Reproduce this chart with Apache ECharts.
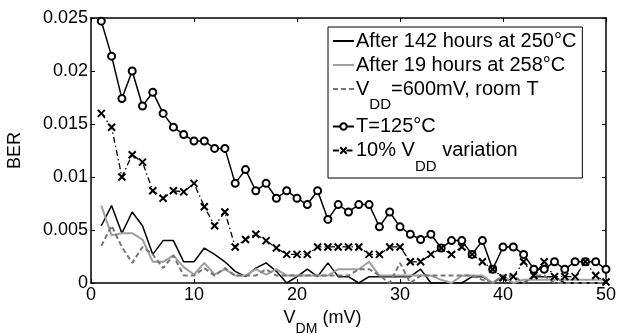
<!DOCTYPE html>
<html>
<head>
<meta charset="utf-8">
<script src="https://cdn.jsdelivr.net/npm/echarts@6/dist/echarts.min.js"></script>
<style>
  html, body { margin: 0; padding: 0; background: #fff; }
  #chart { width: 631px; height: 334px; }
</style>
</head>
<body>
<div id="chart"></div>
<script>
// V_DM (mV) sample points
const vdm = Array.from({ length: 50 }, (_, i) => i + 1);

// BER readings, one array per curve
const after142h = [0.0054, 0.0073, 0.0047, 0.0067, 0.0054, 0.0027, 0.0040, 0.0040, 0.0020, 0.0020,
  0.0033, 0.0027, 0.0020, 0.0011, 0.0006, 0.0014, 0.0019, 0.0011, 0.0000, 0.0006,
  0.0013, 0.0006, 0.0019, 0.0006, 0.0006, 0.0000, 0.0006, 0.0006, 0.0006, 0.0006,
  0.0006, 0.0013, 0.0000, 0.0000, 0.0000, 0.0000, 0.0006, 0.0006, 0.0000, 0.0006,
  0.0000, 0.0000, 0.0006, 0.0006, 0.0006, 0.0000, 0.0000, 0.0000, 0.0000, 0.0000];
const after19h = [0.0073, 0.0045, 0.0047, 0.0047, 0.0041, 0.0020, 0.0020, 0.0026, 0.0015, 0.0008,
  0.0019, 0.0008, 0.0013, 0.0007, 0.0007, 0.0013, 0.0008, 0.0013, 0.0007, 0.0007,
  0.0007, 0.0007, 0.0007, 0.0013, 0.0013, 0.0013, 0.0020, 0.0007, 0.0007, 0.0007,
  0.0007, 0.0007, 0.0007, 0.0003, 0.0000, 0.0007, 0.0007, 0.0007, 0.0000, 0.0007,
  0.0000, 0.0003, 0.0003, 0.0003, 0.0003, 0.0003, 0.0003, 0.0003, 0.0003, 0.0003];
const vdd600 = [0.0035, 0.0054, 0.0034, 0.0019, 0.0034, 0.0027, 0.0014, 0.0026, 0.0007, 0.0007,
  0.0014, 0.0007, 0.0014, 0.0007, 0.0007, 0.0007, 0.0013, 0.0007, 0.0007, 0.0007,
  0.0007, 0.0007, 0.0007, 0.0007, 0.0007, 0.0013, 0.0013, 0.0007, 0.0000, 0.0019,
  0.0000, 0.0007, 0.0007, 0.0007, 0.0007, 0.0007, 0.0007, 0.0003, 0.0000, 0.0007,
  0.0007, 0.0000, 0.0007, 0.0007, 0.0000, 0.0000, 0.0000, 0.0000, 0.0000, 0.0000];
const t125 = [0.0247, 0.0214, 0.0174, 0.0200, 0.0167, 0.0180, 0.0160, 0.0147, 0.0140, 0.0134,
  0.0134, 0.0127, 0.0127, 0.0094, 0.0107, 0.0087, 0.0094, 0.0080, 0.0087, 0.0080,
  0.0074, 0.0087, 0.0060, 0.0074, 0.0067, 0.0074, 0.0074, 0.0053, 0.0067, 0.0053,
  0.0046, 0.0041, 0.0046, 0.0033, 0.0040, 0.0040, 0.0027, 0.0040, 0.0013, 0.0034,
  0.0034, 0.0027, 0.0013, 0.0013, 0.0020, 0.0013, 0.0020, 0.0020, 0.0020, 0.0013];
const vddVar = [0.0160, 0.0147, 0.0100, 0.0121, 0.0114, 0.0087, 0.0080, 0.0087, 0.0086, 0.0094,
  0.0072, 0.0054, 0.0067, 0.0034, 0.0041, 0.0046, 0.0040, 0.0033, 0.0027, 0.0027,
  0.0027, 0.0034, 0.0034, 0.0034, 0.0034, 0.0034, 0.0027, 0.0027, 0.0034, 0.0034,
  0.0020, 0.0020, 0.0027, 0.0033, 0.0027, 0.0034, 0.0027, 0.0020, 0.0013, 0.0005,
  0.0006, 0.0020, 0.0007, 0.0020, 0.0006, 0.0006, 0.0006, 0.0020, 0.0007, 0.0001];

const yTicks = [0, 0.005, 0.01, 0.015, 0.02, 0.025];
const xTicks = [0, 10, 20, 30, 40, 50];

const names = [
  'After 142 hours at 250°C',
  'After 19 hours at 258°C',
  '{n|V}{s|DD}{n|=600mV, room T}',
  'T=125°C',
  '{n|10% V}{s|DD}{n| variation}'
];

const font = 'Liberation Sans, Arial, sans-serif';
const pair = arr => arr.map((v, i) => [vdm[i], v]);
const crossIcon = 'path://M0,0L10,10M10,0L0,10';
const noSymbol = { color: 'rgba(0,0,0,0)', borderColor: 'rgba(0,0,0,0)', borderWidth: 0 };

const chart = echarts.init(document.getElementById('chart'), null, { renderer: 'canvas' });

const axisBase = {
  axisLine: { show: true, onZero: false, lineStyle: { color: '#000', width: 1.5 } },
  axisTick: { show: true, inside: true, length: 4, lineStyle: { color: '#000', width: 1 } },
  splitLine: { show: false }
};

const option = {
  backgroundColor: '#fff',
  animation: false,
  textStyle: { fontFamily: font },
  grid: { left: 91, right: 25, top: 18, bottom: 51, containLabel: false, outerBoundsMode: 'none' },
  legend: {
    orient: 'vertical',
    left: 328,
    top: 27,
    padding: [4, 6, 4, 4],
    itemGap: 4,
    itemWidth: 21,
    itemHeight: 8,
    borderColor: '#000',
    borderWidth: 1,
    borderRadius: 0,
    backgroundColor: '#fff',
    textStyle: {
      fontFamily: font, fontSize: 20, color: '#000', padding: [0, 0, 0, -3],
      rich: {
        n: { fontFamily: font, fontSize: 20, color: '#000' },
        s: { fontFamily: font, fontSize: 15, color: '#000', padding: [32, 0, 0, 0] }
      }
    },
    data: [
      { name: names[0], itemStyle: noSymbol },
      { name: names[1], itemStyle: noSymbol },
      { name: names[2], itemStyle: noSymbol },
      { name: names[3] },
      { name: names[4] }
    ]
  },
  xAxis: [
    Object.assign({}, axisBase, {
      type: 'value', min: 0, max: 50, interval: 10,
      name: '{n|V}{s|DM}{n| (mV)}',
      nameLocation: 'middle',
      nameGap: 14,
      nameTextStyle: {
        padding: [0, 52, 0, 0],
        rich: {
          n: { fontFamily: font, fontSize: 18, color: '#000' },
          s: { fontFamily: font, fontSize: 14, color: '#000', padding: [22, 0, 0, 0] }
        }
      },
      axisLabel: { color: '#000', fontSize: 18, fontFamily: font, margin: 3,
        formatter: v => xTicks.includes(v) ? String(v) : '' }
    }),
    Object.assign({}, axisBase, {
      type: 'value', min: 0, max: 50, interval: 10, position: 'top',
      axisLabel: { show: false }
    })
  ],
  yAxis: [
    Object.assign({}, axisBase, {
      type: 'value', min: 0, max: 0.025, interval: 0.005,
      name: 'BER',
      nameLocation: 'middle',
      nameGap: 67,
      nameTextStyle: { color: '#000', fontSize: 18, fontFamily: font },
      axisLabel: { color: '#000', fontSize: 18, fontFamily: font, margin: 3,
        formatter: v => {
          const t = yTicks.find(k => Math.abs(k - v) < 1e-9);
          return t === undefined ? '' : String(t);
        } }
    }),
    Object.assign({}, axisBase, {
      type: 'value', min: 0, max: 0.025, interval: 0.005, position: 'right',
      axisLabel: { show: false }
    })
  ],
  series: [
    {
      name: names[0], type: 'line', data: pair(after142h), symbol: 'none',
      lineStyle: { color: '#000', width: 1.5 }, itemStyle: { color: '#000' }
    },
    {
      name: names[1], type: 'line', data: pair(after19h), symbol: 'none',
      lineStyle: { color: '#a0a0a0', width: 2 }, itemStyle: { color: '#a0a0a0' }
    },
    {
      name: names[2], type: 'line', data: pair(vdd600), symbol: 'none',
      lineStyle: { color: '#777', width: 2, type: [5, 3] }, itemStyle: { color: '#777' }
    },
    {
      name: names[3], type: 'line', data: pair(t125), symbol: 'emptyCircle', symbolSize: 7,
      lineStyle: { color: '#000', width: 1.5 },
      itemStyle: { color: '#000', borderColor: '#000', borderWidth: 1.2 }
    },
    {
      name: names[4], type: 'line', data: pair(vddVar), symbol: crossIcon, symbolSize: 7,
      lineStyle: { color: '#000', width: 1.3, type: [6, 3, 1.5, 3] },
      itemStyle: { color: '#000', borderColor: '#000', borderWidth: 2 }
    }
  ]
};

chart.setOption(option);
</script>
</body>
</html>
